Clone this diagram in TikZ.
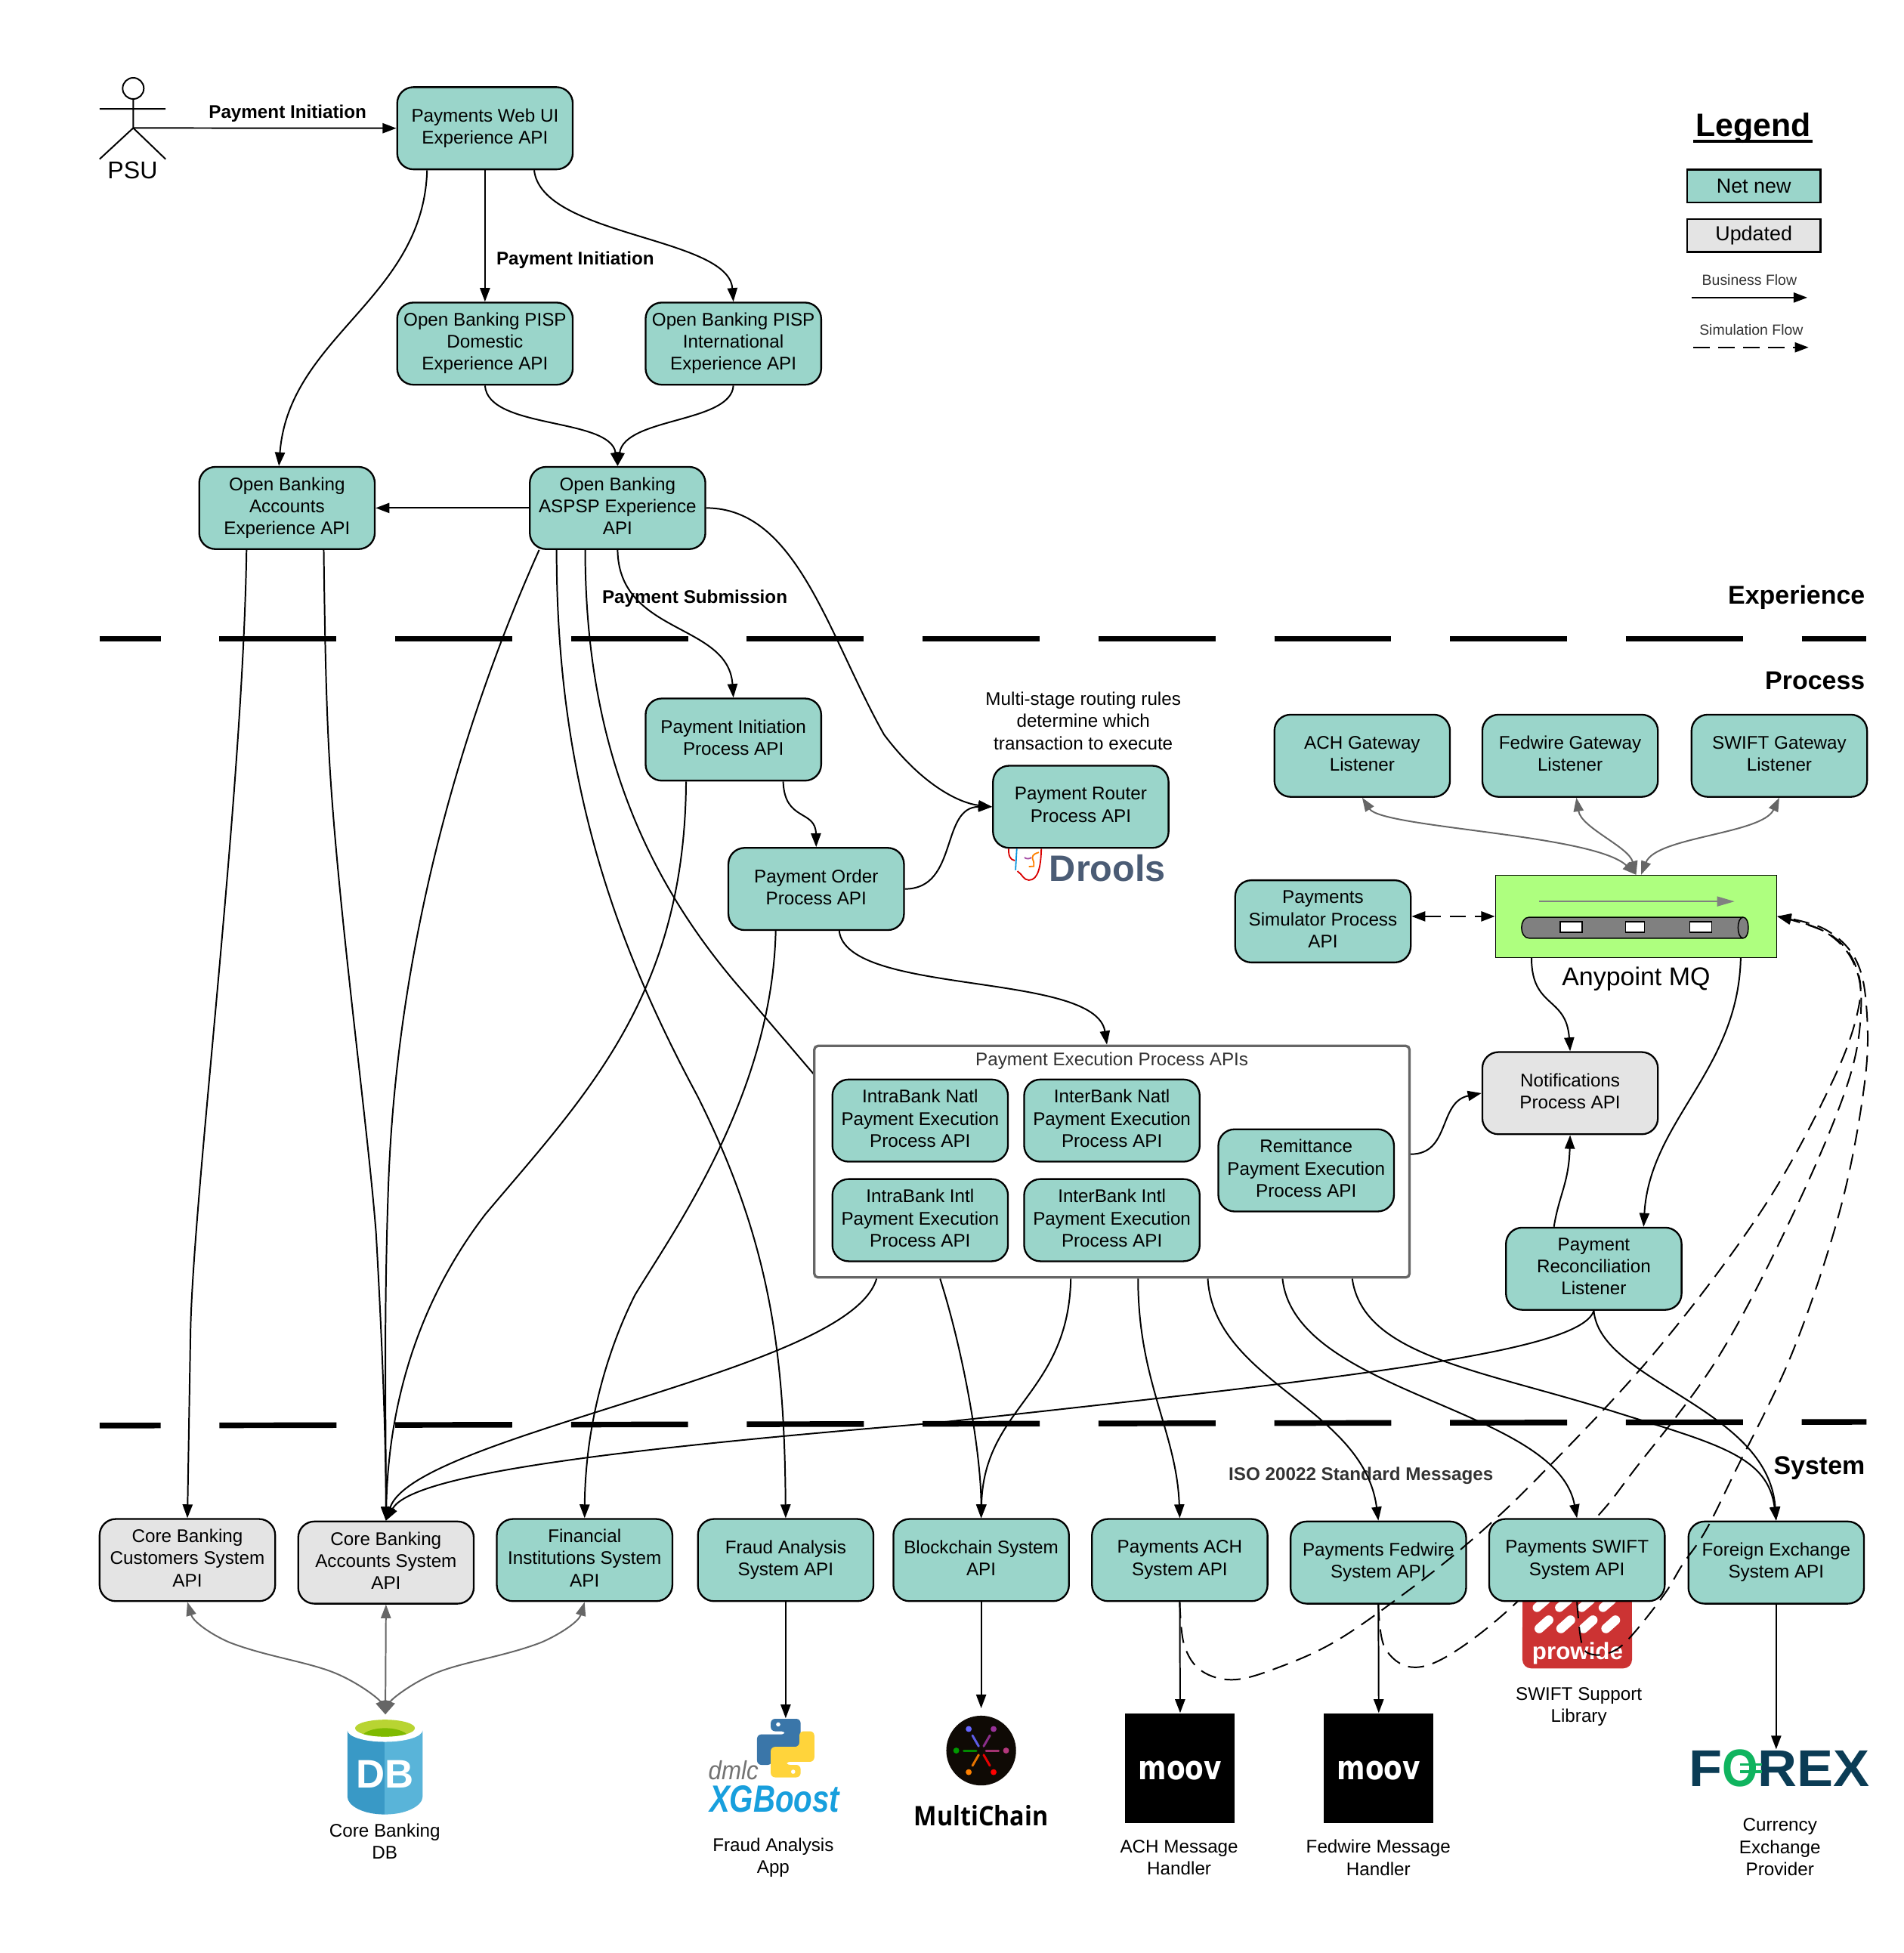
\documentclass[tikz,border=0pt]{standalone}
\usepackage{fontspec}
\setmainfont{Liberation Sans}
\newfontfamily\mcfont{Open Sans}
\newfontfamily\blockfont{DejaVu Sans}
\usetikzlibrary{arrows.meta,calc}
\pgfdeclarelayer{bg}
\pgfsetlayers{bg,main}
\definecolor{tealbox}{HTML}{9AD5CA}
\definecolor{greybox}{HTML}{E4E4E4}
\definecolor{darkline}{HTML}{666666}
\definecolor{softtext}{HTML}{333333}
\definecolor{mqgreen}{HTML}{AEFF7F}
\definecolor{droolsc}{HTML}{4B5C75}
\definecolor{db1}{HTML}{3999C6}
\definecolor{db2}{HTML}{59B4D9}
\definecolor{dbg1}{HTML}{B8D432}
\definecolor{dbg2}{HTML}{7FBA00}
\definecolor{pyblue}{HTML}{3A76A9}
\definecolor{pyyellow}{HTML}{FFD43B}
\definecolor{xgblue}{HTML}{189FDD}
\definecolor{fxdark}{HTML}{0B3C55}
\definecolor{fxgreen}{HTML}{10B45F}
\definecolor{provred}{HTML}{CC3333}
\tikzset{
  apibox/.style={draw=black,line width=1.4pt,rounded corners=13pt,fill=tealbox,minimum width=141pt,minimum height=66pt,inner sep=0pt,align=center,text depth=3.4pt,font=\fontsize{14.7}{17.7}\selectfont,text=black},
  updbox/.style={apibox,fill=greybox},
  flow/.style={line width=1.2pt,-{Triangle[length=11pt,width=8pt]}},
  twoway/.style={line width=1.2pt,draw=darkline,{Triangle[length=11pt,width=8pt,color=darkline]}-{Triangle[length=11pt,width=8pt,color=darkline]}},
  simflow/.style={line width=1.2pt,dash pattern=on 13pt off 7pt,-{Triangle[length=11pt,width=8pt]}},
  lbl/.style={inner sep=0pt,align=center,font=\fontsize{14.7}{17.7}\selectfont},
  blbl/.style={inner sep=0pt,align=center,font=\fontsize{14.7}{17.7}\selectfont\bfseries},
  big/.style={inner sep=0pt,font=\fontsize{20.6}{24}\selectfont\bfseries},
  tier/.style={line width=4.5pt,dash pattern=on 94pt off 47.2pt,dash phase=45pt},
  legendbox/.style={draw=black,line width=1.6pt,minimum width=107pt,minimum height=26.5pt,inner sep=0pt,font=\fontsize{16.3}{18}\selectfont},
  smalllbl/.style={inner sep=0pt,text=softtext,font=\fontsize{11.8}{14}\selectfont},
  moovbox/.style={fill=black,minimum width=88pt,minimum height=88pt,inner sep=0pt},
  moovtext/.style={inner sep=0pt,text=white,font=\fontsize{28}{30}\selectfont\blockfont\bfseries},
}
\begin{document}
\begin{tikzpicture}[x=1pt,y=-1pt]
\useasboundingbox (0,0) rectangle (1529,1568.6);
\begin{pgfonlayer}{bg}
\fill[white] (0,0) rectangle (1529,1568.6);
\end{pgfonlayer}

% ---- tier lines
\coordinate (t1a) at (80,513); \coordinate (t1b) at (1499,513);
\coordinate (t2a) at (80,1145); \coordinate (t2b) at (1499,1142);
\draw[tier] (t1a) -- (t1b);
\draw[tier] (t2a) -- (t2b);
\node[big,anchor=east] (lexp) at (1498,480) {Experience};
\node[big,anchor=east] (lproc) at (1498,547) {Process};
\node[big,anchor=east] (lsys) at (1498,1179) {System};

% ---- actor
\coordinate (psuc) at (107,102.8);
\draw[line width=1.2pt] (107,71) circle (8.5);
\draw[line width=1.2pt] (107,79.5) -- (psuc) (80,87.4) -- (133,87.4) (80,127.8) -- (psuc) -- (133,127.8);
\node[inner sep=0pt,font=\fontsize{19.5}{24}\selectfont] (psu) at (106.5,137) {PSU};

% ---- boxes
\node[apibox] (web) at (389.5,103) {Payments Web UI\\Experience API};
\node[apibox] (dom) at (389.5,276) {Open Banking PISP\\Domestic\\Experience API};
\node[apibox] (intl) at (589,276) {Open Banking PISP\\International\\Experience API};
\node[apibox] (accts) at (230.5,408) {Open Banking\\Accounts\\Experience API};
\node[apibox] (aspsp) at (496,408) {Open Banking\\ASPSP Experience\\API};
\node[apibox] (pinit) at (589,594) {Payment Initiation\\Process API};
\node[apibox] (order) at (655.5,714) {Payment Order\\Process API};
\node[apibox] (router) at (868,648) {Payment Router\\Process API};
\node[apibox] (achgw) at (1094,607) {ACH Gateway\\Listener};
\node[apibox] (fedgw) at (1261,607) {Fedwire Gateway\\Listener};
\node[apibox] (swgw) at (1429,607) {SWIFT Gateway\\Listener};
\node[apibox] (sim) at (1062.5,740) {Payments\\Simulator Process\\API};
\node[updbox] (notif) at (1261,878) {Notifications\\Process API};
\node[apibox] (recon) at (1280,1019) {Payment\\Reconciliation\\Listener};

\node[draw=darkline,line width=2pt,fill=white,rounded corners=3pt,minimum width=478pt,minimum height=186pt,inner sep=0pt] (exec) at (893,933) {};
\node[lbl,text=softtext,font=\fontsize{14.7}{17}\selectfont] (exectitle) at (893,852) {Payment Execution Process APIs};
\node[apibox] (ibn) at (739,900) {IntraBank Natl\\Payment Execution\\Process API};
\node[apibox] (xbn) at (893,900) {InterBank Natl\\Payment Execution\\Process API};
\node[apibox] (ibi) at (739,980) {IntraBank Intl\\Payment Execution\\Process API};
\node[apibox] (xbi) at (893,980) {InterBank Intl\\Payment Execution\\Process API};
\node[apibox] (remit) at (1049,940) {Remittance\\Payment Execution\\Process API};

\node[updbox] (cust) at (150.5,1253) {Core Banking\\Customers System\\API};
\node[updbox] (core) at (310,1255) {Core Banking\\Accounts System\\API};
\node[apibox] (fin) at (469.5,1253) {Financial\\Institutions System\\API};
\node[apibox] (fraud) at (631,1253) {Fraud Analysis\\System API};
\node[apibox] (chain) at (788,1253) {Blockchain System\\API};
\node[apibox] (achs) at (947.5,1253) {Payments ACH\\System API};
\node[apibox] (feds) at (1107,1255) {Payments Fedwire\\System API};
\node[apibox] (swifts) at (1266.5,1253) {Payments SWIFT\\System API};
\node[apibox] (fxs) at (1426.5,1255) {Foreign Exchange\\System API};

% ---- Anypoint MQ
\node[draw=black,line width=.8pt,fill=mqgreen,minimum width=226pt,minimum height=66pt,inner sep=0pt] (mq) at (1314,736) {};
\draw[draw=gray,line width=.8pt,-{Triangle[length=14pt,width=8pt,color=gray]}] (1236,724) -- (1393,724);
\draw[fill=gray,line width=.9pt] (1228,736.7) -- (1400,736.7) .. controls (1405.5,736.7) and (1405.5,753.5) .. (1400,753.5) -- (1228,753.5) .. controls (1220,753.5) and (1220,736.7) .. (1228,736.7) -- cycle;
\draw[line width=.9pt] (1400,736.7) .. controls (1394.5,736.7) and (1394.5,753.5) .. (1400,753.5);
\foreach \a/\b in {1253/1270.6,1305.6/1320.6,1357/1374.7}{\draw[fill=white,line width=.7pt] (\a,740.3) rectangle (\b,748.8);}
\node[inner sep=0pt,font=\fontsize{20.6}{24}\selectfont] (mqlabel) at (1314,786) {Anypoint MQ};

% ---- texts
\node[blbl] (lpi1) at (231,91) {Payment Initiation};
\node[blbl] (lpi2) at (462,209) {Payment Initiation};
\node[blbl] (lsub) at (558,481) {Payment Submission};
\node[lbl] (lrules) at (870,579) {Multi-stage routing rules\\determine which\\transaction to execute};
\node[blbl,text=softtext] (liso) at (1093,1185) {ISO 20022 Standard Messages};
\node[lbl] (ldb) at (309,1479) {Core Banking\\DB};
\node[lbl] (lfraud) at (621,1492) {Fraud Analysis\\App};
\node[lbl] (lacha) at (947,1492) {ACH Message\\Handler};
\node[lbl] (lfeda) at (1107,1492) {Fedwire Message\\Handler};
\node[lbl] (lswift) at (1268,1371) {SWIFT Support\\Library};
\node[lbl] (lcurr) at (1429.5,1483.5) {Currency\\Exchange\\Provider};

% ---- legend
\node[inner sep=0pt,font=\fontsize{26}{30}\selectfont\bfseries] (leg) at (1408,103) {Legend};
\draw[line width=2.6pt] (1360,113.5) -- (1456,113.5);
\node[legendbox,fill=tealbox] (lnew) at (1408.5,149.3) {Net new};
\node[legendbox,fill=greybox] (lupd) at (1408.5,189.3) {Updated};
\node[smalllbl] (lbf) at (1405,225) {Business Flow};
\coordinate (lbfa) at (1358.6,239); \coordinate (lbfb) at (1451.5,239);
\draw[flow] (lbfa) -- (lbfb);
\node[smalllbl] (lsf) at (1406.5,265) {Simulation Flow};
\coordinate (lsfa) at (1360,279); \coordinate (lsfb) at (1452.5,279);
\draw[simflow] (lsfa) -- (lsfb);

% ---- logos
\begin{pgfonlayer}{bg}
% drools
\draw[red!85!black,line width=1.1pt] (810,681.6) .. controls (810,687) and (811,690.5) .. (815,691.2);
\draw[red!85!black,line width=1.1pt] (817.1,699.7) .. controls (821,702) and (822,707) .. (826.3,706.9) .. controls (834,707) and (836,695) .. (836.3,681.6);
\draw[cyan!80!blue,line width=1.1pt] (816.6,681.6) -- (815.6,698.8);
\draw[violet!70,line width=1.1pt] (822.8,688.7) .. controls (824,690) and (827,690) .. (828.3,688.7);
\draw[orange,line width=1.1pt] (834.4,684.6) .. controls (829,686) and (829,688) .. (829.3,690) .. controls (830.5,692) and (830.3,694) .. (830.3,695.8) -- (826.3,696);
% prowide
\fill[fill=provred] (1222.7,1270) rectangle (1310.7,1330);
\fill[fill=provred,rounded corners=7pt] (1222.7,1300) rectangle (1310.7,1340);
\foreach \x in {1238,1256,1274,1291}{\draw[white,line width=7pt,line cap=round] (\x-3.6,1291.2) -- (\x+3.6,1285);}
\foreach \x in {1240,1257.5,1275.5,1293.6}{\draw[white,line width=7.5pt,line cap=round] (\x-3.8,1308) -- (\x+3.8,1301.2);}
\end{pgfonlayer}
\node[inner sep=0pt,text=white,font=\fontsize{19}{22}\selectfont\bfseries] (prowide) at (1267,1328) {prowide};
\node[inner sep=0pt,text=droolsc,font=\fontsize{29.5}{32}\selectfont\bfseries] (drools) at (889.5,697) {Drools};

% db
\coordinate (dbtop) at (309.5,1377);
\fill[fill=db1] (279,1390) -- (309,1390) -- (309,1457.3) .. controls (291,1457.3) and (279,1450) .. (279,1443) -- cycle;
\fill[fill=db2] (339.4,1390) -- (309,1390) -- (309,1457.3) .. controls (327,1457.3) and (339.4,1450) .. (339.4,1443) -- cycle;
\fill[white] (309.2,1389.6) ellipse (30.2 and 9.4);
\fill[fill=dbg1] (309.2,1388) ellipse (24 and 6.8);
\begin{scope}
\clip (309.2,1388) ellipse (24 and 6.8);
\fill[fill=dbg2] (309.2,1396) ellipse (19 and 8);
\end{scope}
\node[inner sep=0pt,text=white,font=\fontsize{32}{34}\selectfont\bfseries] (dbtxt) at (309,1425) {DB};

% python + xgboost
\coordinate (pytop) at (631,1380);
\foreach \r/\c in {0/pyblue,180/pyyellow}{
\begin{scope}[rotate around={\r:(631,1404)}]
\fill[fill=\c,rounded corners=3.5pt] (619,1380.5) -- (643,1380.5) -- (643,1405) -- (620,1405) -- (620,1417.5) -- (608,1417.5) -- (608,1393) -- (631,1393) -- (631,1390.5) -- (619,1390.5) -- cycle;
\fill[white] (625,1385) circle (1.7);
\end{scope}}
\node[inner sep=0pt,text=black!55,font=\fontsize{20}{22}\selectfont\itshape] (dmlc) at (589,1422) {\scalebox{.95}[1.05]{dmlc}};
\node[inner sep=0pt,text=xgblue] (xgb) at (622,1445) {\scalebox{.92}[1.15]{\fontsize{26.5}{28}\selectfont\bfseries\itshape XGBoost}};

% multichain
\node[circle,fill=black!92!brown,minimum size=56pt,inner sep=0pt] (mc) at (788,1406) {};
\coordinate (mctop) at (788,1372);
\foreach \ang/\c in {60/red,120/orange,0/magenta!70!black,180/green!60!black,-60/violet!80!white,-120/blue!60!white}{
  \draw[\c,line width=1.8pt,line cap=round,opacity=.9] ($(mc.center)+(\ang:4)$) -- ($(mc.center)+(\ang:14)$);
  \fill[\c] ($(mc.center)+(\ang:20)$) circle (2.4);}
\node[inner sep=0pt,font=\fontsize{20}{24}\selectfont\mcfont\bfseries] (mct) at (788,1458) {\scalebox{.98}[1.08]{MultiChain}};

% moov
\node[moovbox] (moova) at (947.8,1420) {};
\node[moovtext] (moovat) at (947.8,1422) {\scalebox{.78}[.95]{moov}};
\node[moovbox] (moovb) at (1107.3,1420) {};
\node[moovtext] (moovbt) at (1107.3,1422) {\scalebox{.78}[.95]{moov}};

% forex
\coordinate (fxtop) at (1426.5,1405);
\node[inner sep=0pt,font=\fontsize{43.7}{46}\selectfont\bfseries] (forex) at (1429,1420) {\scalebox{1}[.95]{\textcolor{fxdark}{F}\scalebox{.85}[1.02]{\textcolor{fxgreen}{O}}\textcolor{fxdark}{REX}}};
\draw[fxgreen,line width=2pt] (1397.6,1417) -- (1415,1417) (1397.6,1423) -- (1415,1423);

% ---- connectors
\draw[flow] (psuc) -- (web.west);
\draw[flow] ([xshift=-46.5pt]web.south) .. controls (340,240) and (232,270) .. ([xshift=-6.5pt]accts.north);
\draw[flow] (web.south) -- (dom.north);
\draw[flow] ([xshift=39.5pt]web.south) .. controls (435,190) and (585,190) .. (intl.north);
\draw[flow] (dom.south) .. controls (392,345) and (490,335) .. (aspsp.north);
\draw[flow] (intl.south) .. controls (587,340) and (502,335) .. (aspsp.north);
\draw[flow] (aspsp.west) -- (accts.east);
\draw[flow] (aspsp.east) .. controls (640,408) and (665,510) .. (710,590) .. controls (740,630) and (770,645) .. (router.west);
\draw[flow] (aspsp.south) .. controls (497,510) and (585,500) .. (pinit.north);
\draw[flow] ([xshift=-63pt]aspsp.south) .. controls (380,560) and (320,740) .. (312,950) .. controls (308,1060) and (310,1150) .. (core.north);
\draw[flow] ([xshift=-49pt]aspsp.south) .. controls (447,620) and (490,750) .. (560,880) .. controls (620,1000) and (630,1090) .. (fraud.north);
\begin{pgfonlayer}{bg}
\draw[line width=1.2pt] ([xshift=-26pt]aspsp.south) .. controls (470,600) and (520,710) .. (600,800) -- ([xshift=11pt,yshift=58pt]exec.west);
\end{pgfonlayer}
\draw[flow] ([xshift=-32.5pt]accts.south) .. controls (195,640) and (155,960) .. (153,1070) -- (cust.north);
\draw[flow] ([xshift=29.5pt]accts.south) .. controls (261,520) and (262,560) .. (264,600) .. controls (270,720) and (295,900) .. (302,990) .. controls (306,1060) and (310,1150) .. (core.north);
\draw[flow] ([xshift=40pt]pinit.south) .. controls (630,660) and (655,650) .. (order.north);
\draw[flow] ([xshift=-38pt]pinit.south) .. controls (550,800) and (470,880) .. (390,975) .. controls (340,1040) and (312,1120) .. (core.north);
\draw[flow] (order.east) .. controls (770,714) and (755,648) .. (router.west);
\draw[flow] ([xshift=18.5pt]order.south) .. controls (680,800) and (880,780) .. ([xshift=-4pt]exec.north);
\draw[flow] ([xshift=-32.5pt]order.south) .. controls (620,880) and (540,990) .. (510,1040) .. controls (485,1090) and (470,1150) .. (fin.north);
\draw[flow] ([xshift=-84pt]mq.south) .. controls (1230,810) and (1258,800) .. (notif.north);
\draw[flow] ([xshift=84pt]mq.south) .. controls (1396,860) and (1325,900) .. ([xshift=40pt]recon.north);
\draw[flow] ([yshift=6pt]exec.east) .. controls (1165,927) and (1155,885) .. (notif.west);
\draw[flow] ([xshift=-32pt]recon.north) .. controls (1252,960) and (1260,950) .. (notif.south);
\draw[twoway] (achgw.south) .. controls (1110,665) and (1280,670) .. (mq.north);
\draw[twoway] ([xshift=5pt]fedgw.south) .. controls (1270,665) and (1308,680) .. (mq.north);
\draw[twoway] (swgw.south) .. controls (1415,670) and (1330,672) .. ([xshift=4pt]mq.north);
\draw[simflow,{Triangle[length=11pt,width=8pt]}-{Triangle[length=11pt,width=8pt]}] (sim.east|-mq.west) -- (mq.west);

\draw[flow] ([xshift=-189pt]exec.south) .. controls (690,1075) and (550,1110) .. (430,1150) .. controls (370,1170) and (320,1190) .. (core.north);
\draw[flow] ([xshift=-138pt]exec.south) .. controls (775,1090) and (788,1170) .. (chain.north);
\draw[flow] ([xshift=-33pt]exec.south) .. controls (858,1120) and (790,1130) .. (chain.north);
\draw[flow] ([xshift=21pt]exec.south) .. controls (914,1110) and (945,1150) .. (achs.north);
\draw[flow] ([xshift=77pt]exec.south) .. controls (975,1110) and (1095,1130) .. (feds.north);
\draw[flow] ([xshift=137pt]exec.south) .. controls (1040,1120) and (1250,1130) .. (swifts.north);
\draw[flow] ([xshift=193pt]exec.south) .. controls (1095,1090) and (1190,1100) .. (1300,1135) .. controls (1380,1160) and (1420,1170) .. (fxs.north);
\draw[flow] (recon.south) .. controls (1285,1110) and (1420,1130) .. (fxs.north);
\draw[flow] (recon.south) .. controls (1270,1085) and (1100,1105) .. (750,1143) .. controls (480,1165) and (330,1185) .. (core.north);

\draw[flow] (fraud.south) -- (pytop);
\draw[flow] (chain.south) -- (mctop);
\draw[flow] (achs.south) -- (moova.north);
\draw[flow] (feds.south) -- (moovb.north);
\draw[flow] (fxs.south) -- (fxtop);
\draw[twoway] (cust.south) .. controls (155,1302) and (168,1312) .. (184,1319) .. controls (215,1331) and (250,1335) .. (272,1345) .. controls (290,1353) and (305,1365) .. (dbtop);
\draw[twoway] (fin.south) .. controls (465,1302) and (451,1312) .. (435,1319) .. controls (404,1331) and (369,1335) .. (347,1345) .. controls (329,1353) and (314,1365) .. (dbtop);
\draw[twoway] (core.south) -- (dbtop);

% ---- simulation flows
\begin{pgfonlayer}{bg}
\draw[simflow] plot[smooth,tension=.6] coordinates {(feds.south) (1112,1323) (1133.6,1339) (1166,1328) (1218,1287) (1282,1219) (1310.7,1183) (1380,1090) (1442,971) (1484,870) (1494.7,809) (1488,772) (1465,748) (mq.east)};
\end{pgfonlayer}
\draw[simflow] plot[smooth,tension=.6] coordinates {(achs.south) (951,1321) (965,1342) (992,1349) (1030,1338) (1072,1318.6) (1119.6,1286) (1176,1242) (1235,1187) (1330,1085) (1415.6,971) (1471,870) (1492.7,809) (1490,775) (1469,750) (mq.east)};
\draw[simflow] plot[smooth,tension=.6] coordinates {(swifts.south) (1270.6,1321) (1280,1329) (1296,1326) (1311,1313) (1337,1280) (1351,1257) (1369.5,1230) (1393,1183) (1440,1085) (1478,971) (1497.5,870) (1499,809) (1490,770) (1465,746) (mq.east)};
\end{tikzpicture}
\end{document}
